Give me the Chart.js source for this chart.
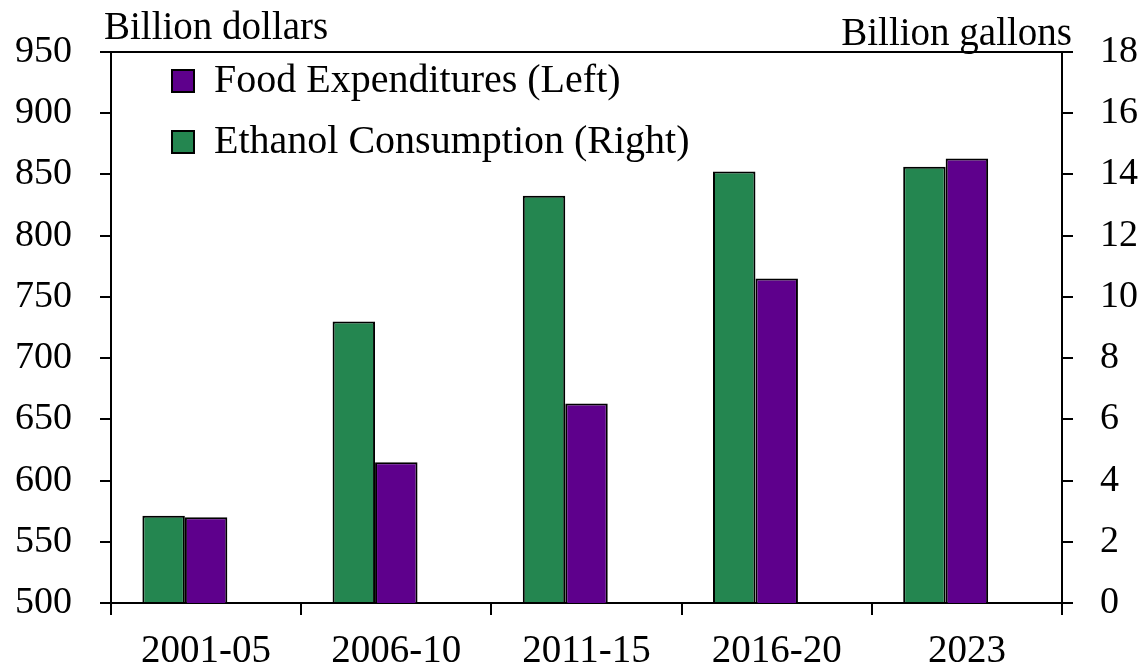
<!DOCTYPE html>
<html>
<head>
<meta charset="utf-8">
<script src="https://cdn.jsdelivr.net/npm/chart.js@4"></script>
<style>
  body { margin: 0; background: #fff; }
  #wrap { position: relative; width: 1142px; height: 670px; }
</style>
</head>
<body>
<div id="wrap"><canvas id="foodChart" width="1142" height="670"></canvas></div>
<script>
const categories = ['2001-05', '2006-10', '2011-15', '2016-20', '2023'];
const ethanolConsumption = [2.85, 9.2, 13.3, 14.1, 14.25];   // billion gallons (right)
const foodExpenditures = [570, 615, 663, 765, 863];           // billion dollars (left)
const leftTicks = [500, 950, 50];   // min, max, step
const rightTicks = [0, 18, 2];

const FONT = "'Liberation Serif', 'Times New Roman', serif";
const GREEN = '#248650';
const PURPLE = '#5e008c';

// axis units above the plot, plus the top border line
const unitLabels = {
    id: 'unitLabels',
    afterLayout(chart) {
        // put the legend inside the plot, top left
        if (chart.legend) {
            chart.legend.left = 151;
            chart.legend.top = 40;
        }
    },
    afterDraw(chart) {
        const ctx = chart.ctx;
        const area = chart.chartArea;
        ctx.save();
        ctx.strokeStyle = '#000';
        ctx.lineWidth = 2;
        ctx.beginPath();
        ctx.moveTo(area.left, area.top);
        ctx.lineTo(area.right + 11, area.top);
        ctx.stroke();
        ctx.fillStyle = '#000';
        ctx.font = '39px ' + FONT;
        ctx.textBaseline = 'alphabetic';
        ctx.textAlign = 'left';
        ctx.fillText('Billion dollars', 104, 39);
        ctx.textAlign = 'right';
        ctx.fillText('Billion gallons', 1072, 45);
        ctx.restore();
    }
};

const ctx = document.getElementById('foodChart').getContext('2d');
new Chart(ctx, {
    type: 'bar',
    data: {
        labels: categories,
        datasets: [{
            label: 'Ethanol Consumption (Right)',
            data: ethanolConsumption,
            yAxisID: 'y1',
            backgroundColor: GREEN,
            borderColor: '#000',
            borderWidth: 2
        }, {
            label: 'Food Expenditures (Left)',
            data: foodExpenditures,
            yAxisID: 'y',
            backgroundColor: PURPLE,
            borderColor: '#000',
            borderWidth: 2
        }, {
            // empty slot so the pair sits left of centre like the original
            label: 'spacer',
            data: categories.map(() => null),
            yAxisID: 'y',
            backgroundColor: 'transparent',
            borderWidth: 0
        }]
    },
    options: {
        responsive: false,
        animation: false,
        layout: { padding: { top: 52 } },
        datasets: {
            bar: { categoryPercentage: 0.67, barPercentage: 1 }
        },
        plugins: {
            tooltip: { enabled: false },
            legend: {
                position: 'chartArea',
                align: 'start',
                reverse: true,
                labels: {
                    filter: item => item.text !== 'spacer',
                    color: '#000',
                    font: { family: FONT, size: 40 },
                    boxWidth: 22,
                    boxHeight: 22,
                    padding: 21
                }
            }
        },
        scales: {
            x: {
                grid: { drawOnChartArea: false, offset: true, tickLength: 12, color: '#000', lineWidth: 2 },
                border: { color: '#000', width: 2 },
                ticks: { color: '#000', font: { family: FONT, size: 39 }, padding: 13, maxRotation: 0 },
                afterFit: s => { s.height = 67; }
            },
            y: {
                position: 'left',
                min: leftTicks[0],
                max: leftTicks[1],
                grid: { drawOnChartArea: false, tickLength: 11, color: '#000', lineWidth: 2 },
                border: { color: '#000', width: 2 },
                ticks: { stepSize: leftTicks[2], color: '#000', font: { family: FONT, size: 38 }, padding: 28 },
                afterFit: s => { s.width = 111; }
            },
            y1: {
                position: 'right',
                min: rightTicks[0],
                max: rightTicks[1],
                grid: { drawOnChartArea: false, tickLength: 11, color: '#000', lineWidth: 2 },
                border: { color: '#000', width: 2 },
                ticks: { stepSize: rightTicks[2], color: '#000', font: { family: FONT, size: 38 }, padding: 27 },
                afterFit: s => { s.width = 80; }
            }
        }
    },
    plugins: [unitLabels]
});
</script>
</body>
</html>
